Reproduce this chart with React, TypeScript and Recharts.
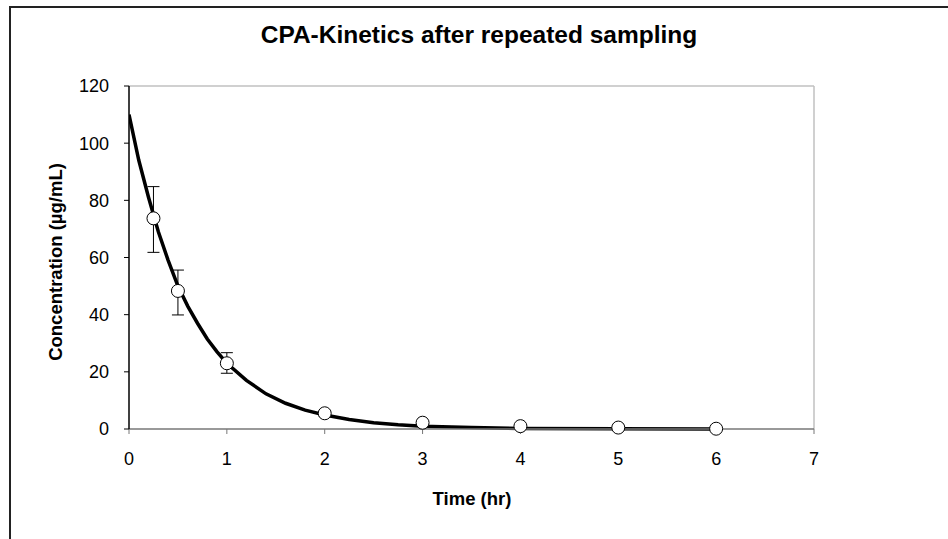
import React from "react";
import {
  ComposedChart,
  Line,
  Scatter,
  ErrorBar,
  XAxis,
  YAxis,
  ReferenceLine,
  Customized,
} from "recharts";

// Fitted curve
const curveTime = [0, 0.1, 0.2, 0.3, 0.4, 0.5, 0.6, 0.7, 0.8, 0.9, 1.0, 1.2, 1.4, 1.6, 1.8, 2.0, 2.25, 2.5, 2.75, 3.0, 3.5, 4, 5, 6];
const curveConc = [110, 94, 81, 69, 59, 50, 43, 37, 31.5, 27, 23, 17, 12.3, 9, 6.6, 4.9, 3.3, 2.2, 1.5, 1.0, 0.5, 0.2, 0.05, 0];

// Measured points (mean with error bars)
const sampleTime = [0.25, 0.5, 1, 2, 3, 4, 5, 6];
const sampleMean = [73.7, 48.3, 23, 5.5, 2.2, 1.0, 0.5, 0.1];
const errLow = [11.9, 8.4, 3.5, 1, 0.5, 0, 0, 0];
const errHigh = [11.1, 7.3, 3.7, 1, 0.5, 0, 0, 0];

const xTicks = [0, 1, 2, 3, 4, 5, 6, 7];
const yTicks = [0, 20, 40, 60, 80, 100, 120];

const title = "CPA-Kinetics after repeated sampling";
const xLabel = "Time (hr)";
const yLabel = "Concentration (µg/mL)";

const curveData = curveTime.map((t, i) => ({ t, c: curveConc[i] }));
const sampleData = sampleTime.map((t, i) => ({
  t,
  c: sampleMean[i],
  err: [errLow[i], errHigh[i]],
}));

const FONT = "'Liberation Sans', Arial, sans-serif";

const Marker = (props: any) => {
  const { cx, cy } = props;
  if (cx == null || cy == null) return null;
  return <circle cx={cx} cy={cy} r={6.5} fill="#fff" stroke="#000" strokeWidth={1} />;
};

const Texts = () => (
  <g fontFamily={FONT} fill="#000">
    <text x={479} y={43} textAnchor="middle" fontSize={24.5} fontWeight="bold">
      {title}
    </text>
    <text x={472} y={505} textAnchor="middle" fontSize={18.5} fontWeight="bold">
      {xLabel}
    </text>
    <text
      x={62}
      y={262}
      textAnchor="middle"
      fontSize={18.5}
      fontWeight="bold"
      transform="rotate(-90 62 262)"
    >
      {yLabel}
    </text>
  </g>
);

export default function App() {
  return (
    <div
      style={{
        position: "fixed",
        left: 0,
        top: 0,
        width: 948,
        height: 539,
        overflow: "hidden",
        background: "#fff",
      }}
    >
      <div
        style={{
          position: "absolute",
          left: 9,
          top: 6,
          width: 1000,
          height: 1000,
          borderLeft: "2px solid #222",
          borderTop: "2px solid #222",
        }}
      />
      <div style={{ position: "absolute", left: 0, top: 0 }}>
        <ComposedChart
          width={948}
          height={539}
          margin={{ top: 86, right: 134, bottom: 70, left: 69 }}
        >
          <XAxis
            type="number"
            dataKey="t"
            domain={[0, 7]}
            ticks={xTicks}
            allowDataOverflow
            height={40}
            fontSize={18}
            axisLine={{ stroke: "#777", strokeWidth: 1.5 }}
            tickLine={{ stroke: "#777" }}
            tickSize={5}
            tickMargin={18}
            tick={{ fill: "#000", fontSize: 18, fontFamily: FONT }}
          />
          <YAxis
            type="number"
            domain={[0, 120]}
            ticks={yTicks}
            width={60}
            fontSize={18}
            axisLine={{ stroke: "#000", strokeWidth: 1.5 }}
            tickLine={{ stroke: "#000" }}
            tickSize={5}
            tickMargin={15}
            tick={{ fill: "#000", fontSize: 18, fontFamily: FONT }}
          />
          <ReferenceLine y={120} stroke="#c0c0c0" strokeWidth={1.5} />
          <ReferenceLine x={7} stroke="#c0c0c0" strokeWidth={1.5} />
          <Line
            data={curveData}
            dataKey="c"
            type="linear"
            stroke="#000"
            strokeWidth={3.5}
            dot={false}
            activeDot={false}
            isAnimationActive={false}
          />
          <Scatter
            data={sampleData}
            dataKey="c"
            shape={Marker}
            isAnimationActive={false}
          >
            <ErrorBar
              dataKey="err"
              direction="y"
              width={6}
              stroke="#000"
              strokeWidth={1}
              isAnimationActive={false}
            />
          </Scatter>
          <Customized component={Texts} />
        </ComposedChart>
      </div>
    </div>
  );
}
